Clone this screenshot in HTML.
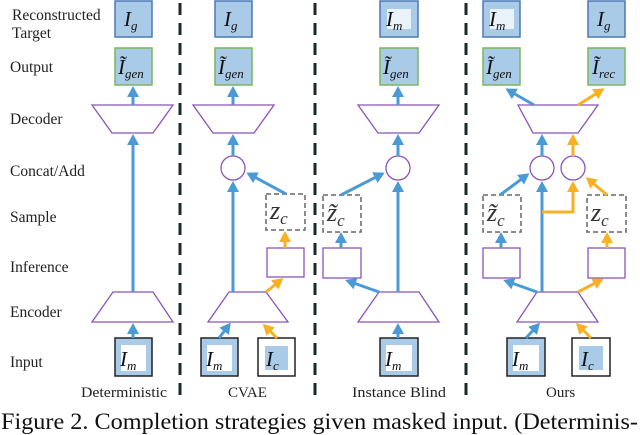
<!DOCTYPE html>
<html><head><meta charset="utf-8"><style>
html,body{margin:0;padding:0;background:#fff;}
svg{display:block;font-family:"Liberation Serif",serif;}
.m{font-style:italic;font-size:21px;}
.s{font-style:italic;font-size:13px;}
</style></head><body>
<svg width="640" height="435" viewBox="0 0 640 435" xmlns="http://www.w3.org/2000/svg">
<defs>
<marker id="b" markerWidth="12" markerHeight="12" refX="8" refY="6" orient="auto" markerUnits="userSpaceOnUse"><path d="M0,0 L11,6 L0,12 z" fill="#4a9ad6"/></marker>
<marker id="o" markerWidth="12" markerHeight="12" refX="8" refY="6" orient="auto" markerUnits="userSpaceOnUse"><path d="M0,0 L11,6 L0,12 z" fill="#f7b125"/></marker>
</defs>
<g font-size="15.5" fill="#222">
<text x="12" y="20">Reconstructed</text><text x="12" y="38">Target</text>
<text x="10" y="72">Output</text>
<text x="10" y="124">Decoder</text>
<text x="10" y="176">Concat/Add</text>
<text x="10" y="222">Sample</text>
<text x="10" y="272">Inference</text>
<text x="10" y="317">Encoder</text>
<text x="10" y="367">Input</text>
<text x="81" y="397" font-size="15" textLength="86" lengthAdjust="spacingAndGlyphs">Deterministic</text>
<text x="228" y="397" font-size="15">CVAE</text>
<text x="352" y="397" font-size="15" textLength="94" lengthAdjust="spacingAndGlyphs">Instance Blind</text>
<text x="546" y="397" font-size="15">Ours</text>
</g>
<text x="1" y="429" font-size="23" fill="#111" textLength="637" lengthAdjust="spacingAndGlyphs">Figure 2. Completion strategies given masked input. (Determinis-</text>
<g stroke="#1a2a2a" stroke-width="3" stroke-dasharray="12,8">
<line x1="180" y1="3" x2="180" y2="402"/><line x1="315" y1="3" x2="315" y2="402"/><line x1="466" y1="3" x2="466" y2="402"/>
</g>
<g fill="#a9cbe8" stroke="#4a78b6" stroke-width="1.5">
<rect x="115" y="1" width="37" height="36"/><rect x="215" y="1" width="37" height="36"/>
<rect x="380" y="1" width="38" height="36"/><rect x="483" y="1" width="37" height="36"/><rect x="588" y="1" width="37" height="36"/>
</g>
<rect x="387" y="9" width="24" height="20" fill="#fff" opacity=".75"/><rect x="490" y="9" width="24" height="20" fill="#fff" opacity=".75"/>
<g fill="#a9cbe8" stroke="#7ab65a" stroke-width="1.5">
<rect x="115" y="48" width="37" height="37"/><rect x="215" y="48" width="37" height="37"/>
<rect x="380" y="48" width="38" height="37"/><rect x="483" y="48" width="37" height="37"/><rect x="588" y="48" width="37" height="37"/>
</g>
<g fill="#111">
<text class="m" x="124" y="26">I<tspan class="s" dy="4">g</tspan></text>
<text class="m" x="224" y="26">I<tspan class="s" dy="4">g</tspan></text>
<text class="m" x="386" y="26">I<tspan class="s" dy="4">m</tspan></text>
<text class="m" x="489" y="26">I<tspan class="s" dy="4">m</tspan></text>
<text class="m" x="597" y="26">I<tspan class="s" dy="4">g</tspan></text>
<text class="m" x="118" y="74">Ĩ<tspan class="s" dy="4">gen</tspan></text>
<text class="m" x="218" y="74">Ĩ<tspan class="s" dy="4">gen</tspan></text>
<text class="m" x="383" y="74">Ĩ<tspan class="s" dy="4">gen</tspan></text>
<text class="m" x="486" y="74">Ĩ<tspan class="s" dy="4">gen</tspan></text>
<text class="m" x="592" y="74">Ĩ<tspan class="s" dy="4">rec</tspan></text>
</g>
<g fill="#fff" stroke="#8a55b8" stroke-width="1.3">
<polygon points="92,105 173,105 153,133 112,133"/>
<polygon points="193,105 274,105 254,133 213,133"/>
<polygon points="358,105 439,105 419,133 378,133"/>
<polygon points="518,105 598,105 578,133 533,133"/>
<polygon points="113,292 153,292 173,322 92,322"/>
<polygon points="229,292 266,292 288,322 208,322"/>
<polygon points="379,292 419,292 439,322 358,322"/>
<polygon points="537,292 578,292 598,322 517,322"/>
<circle cx="233" cy="168" r="12"/><circle cx="398" cy="168" r="12"/>
<circle cx="542" cy="168" r="12"/><circle cx="573" cy="168" r="12"/>
<rect x="267" y="248" width="37" height="29"/><rect x="323" y="248" width="38" height="30"/>
<rect x="483" y="248" width="37" height="30"/><rect x="588" y="248" width="37" height="30"/>
</g>
<g fill="#fff" stroke="#666" stroke-width="1.5" stroke-dasharray="5,3">
<rect x="266" y="194" width="39" height="36"/><rect x="323" y="195" width="38" height="37"/>
<rect x="483" y="195" width="38" height="37"/><rect x="587" y="195" width="39" height="37"/>
</g>
<g fill="#333" font-style="italic" font-size="26">
<text x="270" y="219">z<tspan font-size="17" dy="5">c</tspan></text>
<text x="327" y="221">z̃<tspan font-size="17" dy="5">c</tspan></text>
<text x="487" y="221">z̃<tspan font-size="17" dy="5">c</tspan></text>
<text x="591" y="221">z<tspan font-size="17" dy="5">c</tspan></text>
</g>
<g stroke="#222" stroke-width="1.5">
<rect x="115" y="338" width="37" height="38" fill="#a9cbe8"/>
<rect x="201" y="338" width="37" height="38" fill="#a9cbe8"/>
<rect x="380" y="338" width="38" height="38" fill="#a9cbe8"/>
<rect x="507" y="338" width="38" height="38" fill="#a9cbe8"/>
<rect x="258" y="338" width="37" height="38" fill="#fff"/>
<rect x="572" y="338" width="38" height="38" fill="#fff"/>
</g>
<g fill="#fff"><rect x="121" y="345" width="25" height="26"/><rect x="207" y="345" width="25" height="26"/><rect x="386" y="345" width="26" height="26"/><rect x="513" y="345" width="26" height="26"/></g>
<g fill="#a9cbe8"><rect x="265" y="346" width="23" height="24"/><rect x="579" y="346" width="24" height="24"/></g>
<g fill="#111">
<text class="m" x="120" y="366">I<tspan class="s" dy="4">m</tspan></text>
<text class="m" x="206" y="366">I<tspan class="s" dy="4">m</tspan></text>
<text class="m" x="385" y="366">I<tspan class="s" dy="4">m</tspan></text>
<text class="m" x="512" y="366">I<tspan class="s" dy="4">m</tspan></text>
<text class="m" x="266" y="366">I<tspan class="s" dy="4">c</tspan></text>
<text class="m" x="581" y="366">I<tspan class="s" dy="4">c</tspan></text>
</g>
<g stroke="#4a9ad6" stroke-width="3" fill="none" marker-end="url(#b)">
<line x1="133" y1="105" x2="133" y2="89"/>
<line x1="133" y1="292" x2="133" y2="137"/>
<line x1="133" y1="338" x2="133" y2="326"/>
<line x1="233" y1="105" x2="233" y2="89"/>
<line x1="233" y1="156" x2="233" y2="137"/>
<line x1="233" y1="292" x2="233" y2="184"/>
<line x1="286" y1="194" x2="249" y2="174"/>
<line x1="219" y1="338" x2="229" y2="325"/>
<line x1="398" y1="105" x2="398" y2="89"/>
<line x1="398" y1="156" x2="398" y2="137"/>
<line x1="398" y1="292" x2="398" y2="184"/>
<line x1="341" y1="195" x2="382" y2="174"/>
<line x1="341" y1="248" x2="341" y2="235"/>
<line x1="379" y1="292" x2="348" y2="281"/>
<line x1="398" y1="338" x2="398" y2="326"/>
<line x1="534" y1="105" x2="508" y2="90"/>
<line x1="542" y1="156" x2="542" y2="137"/>
<line x1="542" y1="292" x2="542" y2="184"/>
<line x1="500" y1="195" x2="527" y2="175"/>
<line x1="501" y1="248" x2="501" y2="235"/>
<line x1="537" y1="292" x2="506" y2="281"/>
<line x1="526" y1="338" x2="538" y2="325"/>
</g>
<g stroke="#f7b125" stroke-width="3" fill="none" marker-end="url(#o)">
<line x1="285" y1="248" x2="285" y2="234"/>
<line x1="266" y1="292" x2="281" y2="280"/>
<line x1="277" y1="338" x2="265" y2="326"/>
<line x1="578" y1="105" x2="602" y2="90"/>
<line x1="573" y1="156" x2="573" y2="137"/>
<polyline points="542,212 573,212 573,184"/>
<line x1="607" y1="195" x2="588" y2="179"/>
<line x1="607" y1="248" x2="607" y2="235"/>
<line x1="578" y1="292" x2="601" y2="280"/>
<line x1="591" y1="338" x2="578" y2="325"/>
</g>
</svg>
</body></html>
